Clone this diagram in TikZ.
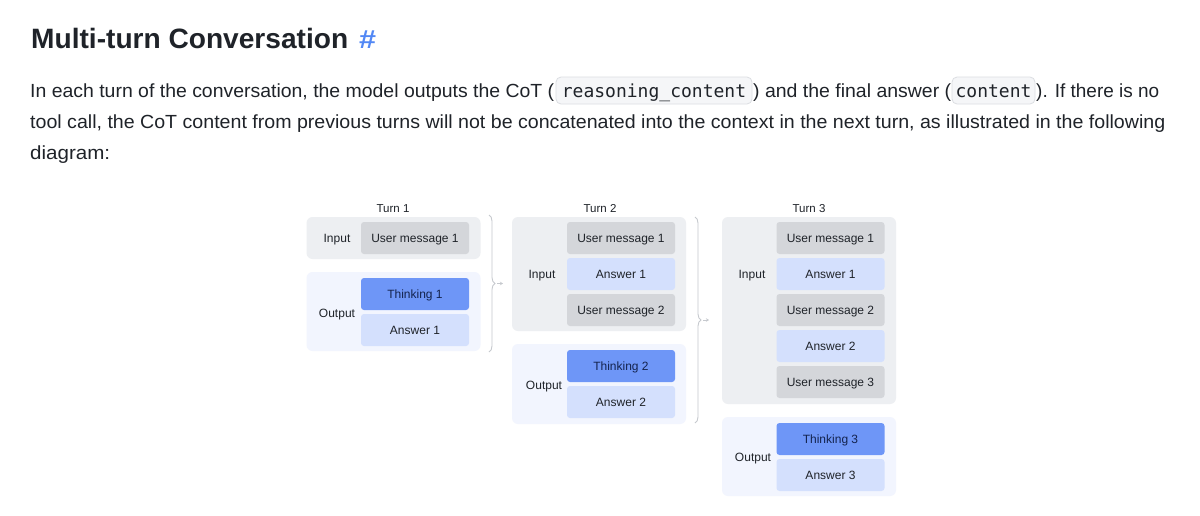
\documentclass[tikz,border=0pt]{standalone}
\usepackage{fontspec}
\setmainfont{Liberation Sans}
\newfontfamily\codefont{DejaVu Sans Mono}
\usetikzlibrary{decorations.pathreplacing,arrows.meta}
\definecolor{ink}{HTML}{1F2329}
\definecolor{thinkink}{HTML}{14234D}
\definecolor{hashblue}{HTML}{5288F5}
\definecolor{codebg}{HTML}{F5F6F8}
\definecolor{codeline}{HTML}{DCDEE2}
\definecolor{inbg}{HTML}{EDEFF2}
\definecolor{outbg}{HTML}{F2F5FE}
\definecolor{umsgc}{HTML}{D4D6DA}
\definecolor{ansc}{HTML}{D4E0FD}
\definecolor{thinkc}{HTML}{6E96F7}
\definecolor{bracec}{HTML}{C6C9CE}
\newcommand{\fitto}[2]{\resizebox{#1}{\height}{#2}}
\tikzset{
  txt/.style={anchor=base west, inner sep=0pt, text=ink, font=\fontsize{19pt}{23pt}\selectfont},
  codebox/.style={anchor=base, inner sep=0pt, fill=codebg, draw=codeline, line width=0.8pt, rounded corners=5pt, text height=20pt, text depth=7pt, text=ink, font=\codefont\fontsize{18pt}{22pt}\selectfont},
  inbox/.style={fill=inbg, rounded corners=6pt, minimum width=174pt, inner sep=0pt},
  outbox/.style={fill=outbg, rounded corners=6pt, minimum width=174pt, inner sep=0pt},
  msgbase/.style={rounded corners=3pt, minimum width=108pt, minimum height=32pt, inner sep=0pt, text height=8.6pt, text depth=0pt, text=ink, font=\fontsize{12pt}{14pt}\selectfont},
  umsg/.style={msgbase, fill=umsgc},
  ans/.style={msgbase, fill=ansc},
  think/.style={msgbase, fill=thinkc, text=thinkink},
  lbl/.style={inner sep=0pt, text height=8.6pt, text depth=0pt, text=ink, font=\fontsize{12pt}{14pt}\selectfont},
  turnlbl/.style={inner sep=0pt, text height=8.2pt, text depth=0pt, text=ink, font=\fontsize{11.5pt}{14pt}\selectfont},
  bracestyle/.style={draw=bracec, line width=0.9pt, decorate, decoration={brace, amplitude=6pt}},
  arr/.style={draw=bracec, line width=0.9pt, -{Stealth[length=3pt,width=3.5pt]}}
}
\begin{document}
\begin{tikzpicture}[x=1pt,y=-1pt]
\useasboundingbox (0,0) rectangle (1200,515);
\fill[white] (0,0) rectangle (1200,515);

% heading
\node[anchor=base west, inner sep=0pt, text=ink, font=\bfseries\fontsize{28pt}{32pt}\selectfont] (title) at (31,48) {\fitto{317pt}{Multi-turn Conversation}};
\node[anchor=base west, inner sep=0pt, text=hashblue, font=\bfseries\fontsize{26pt}{32pt}\selectfont] (hash) at (359,48) {\fitto{17pt}{\#}};

% paragraph
\node[txt] (l1a) at (30,97) {\fitto{524pt}{In each turn of the conversation, the model outputs the CoT (}};
\node[codebox, minimum width=196pt] (code1) at (654,97) {reasoning\_content};
\node[txt] (l1b) at (753,97) {\fitto{198pt}{) and the final answer (}};
\node[codebox, minimum width=83pt] (code2) at (993.5,97) {content};
\node[txt] (l1c) at (1036,97) {\fitto{123pt}{). If there is no}};
\node[txt] (l2) at (30,128) {\fitto{1135pt}{tool call, the CoT content from previous turns will not be concatenated into the context in the next turn, as illustrated in the following}};
\node[txt] (l3) at (30,159) {\fitto{80pt}{diagram:}};

% Turn 1
\node[turnlbl] (turn1) at (393,208) {Turn 1};
\node[inbox, minimum height=42pt] (t1in) at (393.5,238) {};
\node[outbox, minimum height=79pt] (t1out) at (393.5,311.5) {};
\node[lbl] (t1inl) at (337,238) {Input};
\node[lbl] (t1outl) at (337,313) {Output};
\node[umsg] (t1u1) at (415,238) {User message 1};
\node[think] (t1t1) at (415,294) {Thinking 1};
\node[ans] (t1a1) at (415,330) {Answer 1};

% Turn 2
\node[turnlbl] (turn2) at (600,208) {Turn 2};
\node[inbox, minimum height=114pt] (t2in) at (599,274) {};
\node[outbox, minimum height=80pt] (t2out) at (599,384) {};
\node[lbl] (t2inl) at (542,274) {Input};
\node[lbl] (t2outl) at (544,385) {Output};
\node[umsg] (t2u1) at (621,238) {User message 1};
\node[ans] (t2a1) at (621,274) {Answer 1};
\node[umsg] (t2u2) at (621,310) {User message 2};
\node[think] (t2t2) at (621,366) {Thinking 2};
\node[ans] (t2a2) at (621,402) {Answer 2};

% Turn 3
\node[turnlbl] (turn3) at (809,208) {Turn 3};
\node[inbox, minimum height=187pt] (t3in) at (809,310.5) {};
\node[outbox, minimum height=79pt] (t3out) at (809,456.5) {};
\node[lbl] (t3inl) at (752,274) {Input};
\node[lbl] (t3outl) at (753,457) {Output};
\node[umsg] (t3u1) at (830.5,238) {User message 1};
\node[ans] (t3a1) at (830.5,274) {Answer 1};
\node[umsg] (t3u2) at (830.5,310) {User message 2};
\node[ans] (t3a2) at (830.5,346) {Answer 2};
\node[umsg] (t3u3) at (830.5,382) {User message 3};
\node[think] (t3t3) at (830.5,439) {Thinking 3};
\node[ans] (t3a3) at (830.5,475) {Answer 3};

% braces and arrows
\coordinate (b1top) at (489,215);
\coordinate (b1bot) at (489,352);
\coordinate (b1tip) at (497,283.5);
\coordinate (b1end) at (503,283.5);
\draw[bracestyle] (b1top) -- (b1bot);
\draw[arr] (b1tip) -- (b1end);

\coordinate (b2top) at (695,217);
\coordinate (b2bot) at (695,423);
\coordinate (b2tip) at (703,320);
\coordinate (b2end) at (709,320);
\draw[bracestyle] (b2top) -- (b2bot);
\draw[arr] (b2tip) -- (b2end);
\end{tikzpicture}
\end{document}
